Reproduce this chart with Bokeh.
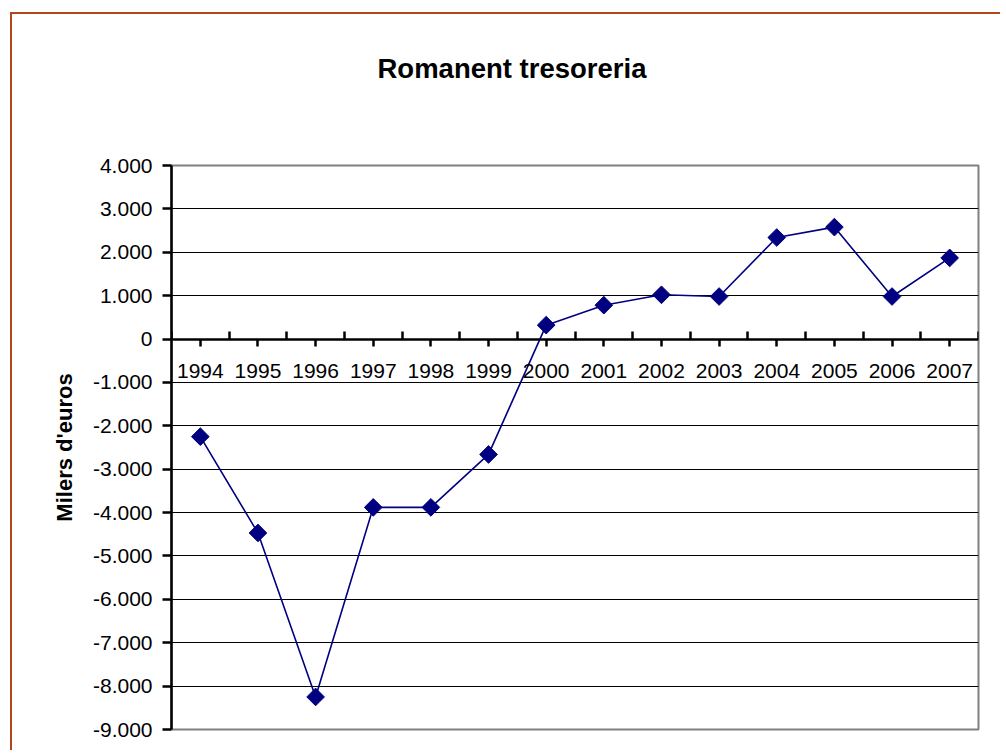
import math
from bokeh.plotting import figure
from bokeh.models import Range1d, FixedTicker, LinearAxis, Title
from bokeh.embed import file_html
from bokeh.resources import INLINE

years = ["1994", "1995", "1996", "1997", "1998", "1999", "2000",
         "2001", "2002", "2003", "2004", "2005", "2006", "2007"]
values = [-2250, -4470, -8250, -3880, -3880, -2660, 320,
          780, 1020, 980, 2340, 2580, 980, 1870]
y_ticks = [-9000, -8000, -7000, -6000, -5000, -4000, -3000, -2000, -1000,
           0, 1000, 2000, 3000, 4000]
y_tick_labels = ["-9.000", "-8.000", "-7.000", "-6.000", "-5.000", "-4.000",
                 "-3.000", "-2.000", "-1.000", "0", "1.000", "2.000",
                 "3.000", "4.000"]
title_text = "Romanent tresoreria"
y_label = "Milers d'euros"

FONT = "Liberation Sans"
NAVY = "#000080"
BROWN = "#B4461E"

n = len(years)
xs = [i + 0.5 for i in range(n)]

p = figure(width=1000, height=750, output_backend="svg", toolbar_location=None,
           x_range=Range1d(0, n), y_range=Range1d(y_ticks[0], y_ticks[-1]),
           min_border_left=171, min_border_right=22, min_border_top=165,
           min_border_bottom=21, x_axis_location=None)

p.background_fill_color = "white"
p.border_fill_color = None
p.outline_line_color = "#808080"
p.outline_line_width = 2

# outer chart frame (brown); only its left and top edges are in view
p.styles = {
    "background-color": "white",
    "background-image": f"linear-gradient({BROWN},{BROWN}), linear-gradient({BROWN},{BROWN})",
    "background-size": "2px 100%, 100% 2px",
    "background-position": "10px 12px, 10px 12px",
    "background-repeat": "no-repeat",
}

# blank gap between plot area and title (first "above" item sits next to the frame)
gap = Title(text=" ", text_font=FONT, text_font_size="10px", standoff=64)
p.add_layout(gap, "above")

# title
title = Title(text=title_text, text_font=FONT, text_font_size="27.5px",
              text_font_style="bold", text_color="black",
              align="left", offset=206, standoff=10)
p.add_layout(title, "above")

# y axis
yax = p.yaxis[0]
yax.ticker = FixedTicker(ticks=y_ticks, minor_ticks=[])
yax.major_label_overrides = {t: l for t, l in zip(y_ticks, y_tick_labels)}
yax.major_label_text_font = FONT
yax.major_label_text_font_size = "21px"
yax.major_label_text_color = "black"
yax.major_label_standoff = 10
yax.axis_line_width = 2.5
yax.axis_line_color = "black"
yax.major_tick_out = 9
yax.major_tick_in = 0
yax.major_tick_line_width = 2.5
yax.major_tick_line_color = "black"
yax.minor_tick_line_color = None
yax.axis_label = y_label
yax.axis_label_text_font = FONT
yax.axis_label_text_font_size = "22px"
yax.axis_label_text_font_style = "bold"
yax.axis_label_text_color = "black"
yax.axis_label_standoff = 13

# x (category) axis crossing at zero
xax = LinearAxis(fixed_location=0,
                 ticker=FixedTicker(ticks=xs, minor_ticks=list(range(n + 1))))
xax.major_label_overrides = {x: y for x, y in zip(xs, years)}
xax.major_label_text_font = FONT
xax.major_label_text_font_size = "21px"
xax.major_label_text_color = "black"
xax.major_label_standoff = 18
xax.axis_line_width = 2.5
xax.axis_line_color = "black"
xax.major_tick_out = 7
xax.major_tick_in = 0
xax.major_tick_line_width = 2.5
xax.major_tick_line_color = "black"
xax.minor_tick_out = 0
xax.minor_tick_in = 8
xax.minor_tick_line_width = 2.5
xax.minor_tick_line_color = "black"
p.add_layout(xax, "below")

# grid
p.xgrid.visible = False
p.ygrid.ticker = FixedTicker(ticks=y_ticks[1:-1])
p.ygrid.grid_line_color = "black"
p.ygrid.grid_line_width = 1

# series
p.line(xs, values, line_color=NAVY, line_width=1.6)
p.scatter(xs, values, marker="square", angle=math.pi / 4, size=12.5,
          fill_color=NAVY, line_color=NAVY)

open("out.html", "w").write(file_html(p, INLINE))
